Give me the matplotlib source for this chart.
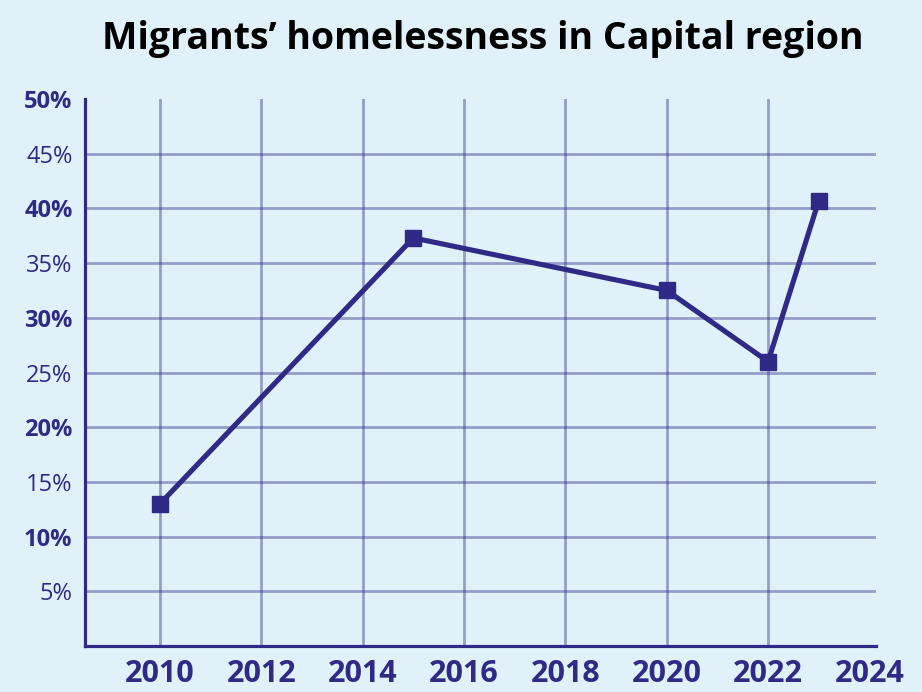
import matplotlib
matplotlib.use("Agg")
import matplotlib.pyplot as plt

# data
years = [2010, 2015, 2020, 2022, 2023]
share = [13.0, 37.3, 32.5, 26.0, 40.7]

x_ticks = [2010, 2012, 2014, 2016, 2018, 2020, 2022, 2024]
y_ticks = [5, 10, 15, 20, 25, 30, 35, 40, 45, 50]
title = "Migrants\u2019 homelessness in Capital region"

bg = "#e1f1f9"
ink = "#2e2a85"

plt.rcParams["font.family"] = ["Open Sans", "DejaVu Sans"]

fig = plt.figure(figsize=(9.22, 6.92), dpi=100, facecolor=bg)
ax = fig.add_axes([85 / 922, 46 / 692, 791 / 922, 547 / 692], facecolor=bg)

ax.plot(years, share, color=ink, lw=3.7, marker="s", ms=12,
        solid_joinstyle="miter", zorder=3)

ax.set_xlim(2008.52, 2024.13)
ax.set_ylim(0, 50)
ax.set_xticks(x_ticks)
ax.set_yticks(y_ticks)
ax.set_xticklabels([str(t) for t in x_ticks], fontsize=22, fontweight="bold", color=ink)
ax.set_yticklabels([f"{t}%" for t in y_ticks], fontsize=17, color=ink)
for lab, t in zip(ax.get_yticklabels(), y_ticks):
    if t % 10 == 0:
        lab.set_fontweight("bold")

ax.tick_params(axis="x", length=0, pad=9)
ax.tick_params(axis="y", length=0, pad=9)

ax.grid(True, color=ink, alpha=0.42, lw=2)
ax.xaxis.get_gridlines()[-1].set_visible(False)
ax.yaxis.get_gridlines()[-1].set_visible(False)
ax.set_axisbelow(True)

for s in ["top", "right"]:
    ax.spines[s].set_visible(False)
for s in ["left", "bottom"]:
    ax.spines[s].set_color(ink)
    ax.spines[s].set_linewidth(2.3)

fig.text(0.524, 0.943, title, ha="center", va="center", fontsize=27,
         fontweight="bold", color="black")

fig.savefig("out.png", dpi=100, facecolor=bg)
